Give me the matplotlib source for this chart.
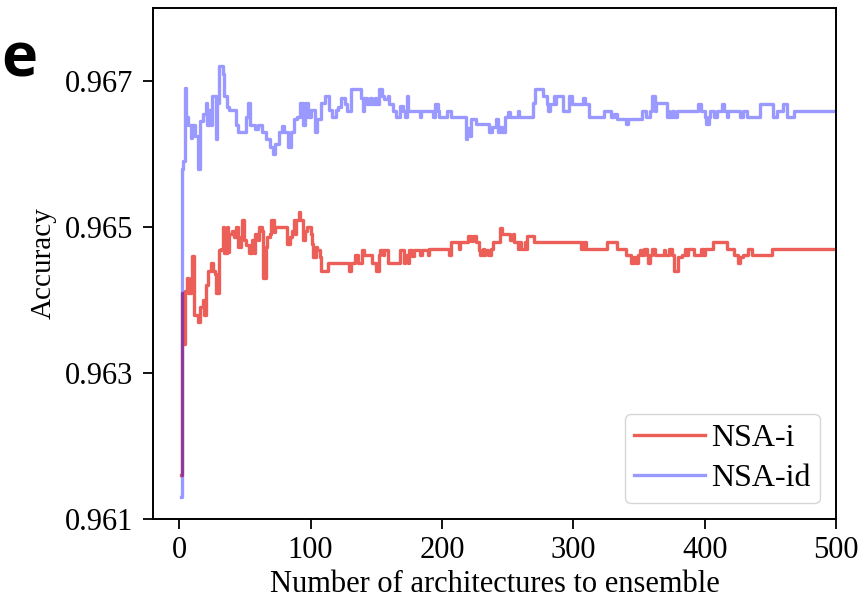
import matplotlib
matplotlib.use("Agg")
import matplotlib.pyplot as plt

# NSA-id (blue): step breakpoints
id_x = [1, 2, 3, 4, 5, 7, 9, 10, 12, 14, 16, 18, 20, 21, 23, 24, 25, 28, 29, 30,
        33, 34, 36, 38, 43, 45, 48, 51, 52, 54, 58, 60, 63, 66, 69, 71, 73, 76, 78, 80,
        83, 85, 87, 90, 92, 94, 96, 98, 100, 103, 105, 108, 111, 114, 116, 119, 121, 123, 126, 128,
        131, 138, 140, 141, 143, 145, 147, 149, 150, 152, 154, 156, 159, 160, 163, 165, 168, 170, 172, 173,
        174, 183, 184, 193, 195, 197, 198, 204, 207, 218, 219, 221, 222, 226, 236, 238, 241, 243, 244, 246,
        248, 250, 252, 258, 259, 269, 271, 277, 280, 281, 282, 285, 286, 287, 292, 297, 299, 307, 309, 312,
        323, 329, 331, 333, 340, 342, 352, 355, 358, 360, 362, 363, 371, 372, 373, 375, 377, 379, 395, 397,
        400, 401, 403, 404, 407, 409, 413, 415, 417, 418, 427, 429, 432, 442, 452, 455, 460, 463, 468, 500]
id_y = [0.9613, 0.9658, 0.9659, 0.9669, 0.9665, 0.9664, 0.96622, 0.9664, 0.96625, 0.9658,
        0.96645, 0.96655, 0.9667, 0.9664, 0.9666, 0.9664, 0.9668, 0.9662, 0.9667, 0.9672,
        0.9671, 0.9668, 0.96665, 0.9666, 0.9664, 0.9663, 0.9663, 0.9665, 0.9667, 0.9664,
        0.96634, 0.9664, 0.9663, 0.9662, 0.9661, 0.9660, 0.96614, 0.9663, 0.96638, 0.9663,
        0.9661, 0.9663, 0.96648, 0.9665, 0.9667, 0.9664, 0.9667, 0.9665, 0.9666, 0.9663,
        0.96648, 0.9667, 0.9668, 0.9666, 0.9665, 0.9666, 0.96665, 0.96677, 0.96668, 0.96659,
        0.96689, 0.96677, 0.96659, 0.96677, 0.96668, 0.96677, 0.96668, 0.96677, 0.96668, 0.96689,
        0.9668, 0.96675, 0.9668, 0.96668, 0.96659, 0.9665, 0.96666, 0.96659, 0.9665, 0.9668,
        0.96659, 0.9665, 0.96659, 0.9665, 0.96668, 0.96659, 0.9665, 0.96659, 0.9665, 0.9662,
        0.96635, 0.96625, 0.96648, 0.96641, 0.9663, 0.96637, 0.96648, 0.9663, 0.96637, 0.9663,
        0.9665, 0.96657, 0.9665, 0.96659, 0.9665, 0.9667, 0.96689, 0.9668, 0.96668, 0.96659,
        0.96668, 0.9668, 0.96668, 0.9668, 0.96659, 0.9668, 0.96668, 0.96677, 0.96668, 0.9665,
        0.96659, 0.9665, 0.96655, 0.96648, 0.96641, 0.96648, 0.96659, 0.9665, 0.96659, 0.9668,
        0.96659, 0.9667, 0.9665, 0.96659, 0.9665, 0.96659, 0.9665, 0.96659, 0.96668, 0.96659,
        0.9665, 0.96641, 0.9665, 0.96659, 0.9665, 0.96659, 0.96668, 0.96659, 0.9665, 0.96659,
        0.9665, 0.96659, 0.9665, 0.96668, 0.9665, 0.96659, 0.96668, 0.9665, 0.96659, 0.96659]

# NSA-i (red)
i_x = [1, 2, 3, 4, 6, 7, 9, 10, 11, 14, 16, 18, 19, 20, 22, 24, 26, 27, 28, 30,
       32, 33, 34, 36, 37, 38, 40, 42, 43, 45, 47, 48, 49, 51, 53, 55, 57, 58, 60, 61,
       63, 64, 66, 67, 69, 70, 72, 73, 80, 82, 84, 86, 87, 88, 89, 91, 92, 94, 96, 97,
       100, 101, 102, 104, 105, 107, 108, 113, 129, 131, 134, 136, 139, 141, 147, 150, 152, 153, 155, 156,
       159, 168, 171, 172, 174, 175, 177, 179, 183, 185, 189, 190, 205, 207, 213, 214, 220, 222, 224, 226,
       228, 229, 231, 232, 233, 235, 237, 239, 244, 246, 252, 254, 255, 258, 259, 260, 263, 264, 265, 270,
       306, 307, 308, 309, 310, 326, 333, 340, 344, 346, 348, 349, 351, 352, 354, 356, 357, 358, 360, 362,
       369, 370, 373, 375, 377, 380, 383, 385, 386, 387, 392, 397, 399, 400, 406, 417, 422, 425, 427, 429,
       433, 436, 451, 500]
i_y = [0.9616, 0.9641, 0.9634, 0.96412, 0.9643, 0.9641, 0.9643, 0.9646, 0.9638, 0.9637,
       0.9639, 0.9640, 0.9638, 0.9642, 0.9644, 0.9645, 0.9644, 0.96435, 0.9641, 0.96468,
       0.9647, 0.9650, 0.96464, 0.9650, 0.96466, 0.9649, 0.96495, 0.96486, 0.9650, 0.96473,
       0.96486, 0.9651, 0.96482, 0.96475, 0.96464, 0.96482, 0.96464, 0.96491, 0.96482, 0.9650,
       0.96495, 0.9643, 0.96473, 0.96486, 0.96491, 0.9651, 0.96493, 0.9650, 0.9650, 0.96477,
       0.96486, 0.96495, 0.9651, 0.96491, 0.9651, 0.9652, 0.9651, 0.96482, 0.96495, 0.9650,
       0.96491, 0.96477, 0.96459, 0.96473, 0.96468, 0.96459, 0.9644, 0.9645, 0.9644, 0.9645,
       0.96461, 0.9645, 0.96468, 0.96461, 0.9645, 0.9644, 0.96461, 0.96468, 0.96461, 0.96468,
       0.9645, 0.96468, 0.9645, 0.96461, 0.9645, 0.96468, 0.9646, 0.96468, 0.96461, 0.96468,
       0.96461, 0.9647, 0.96461, 0.96479, 0.9647, 0.96479, 0.96488, 0.96481, 0.96488, 0.96479,
       0.96468, 0.96461, 0.9647, 0.96461, 0.96468, 0.96461, 0.9647, 0.96479, 0.96498, 0.96491,
       0.96482, 0.96491, 0.96479, 0.9647, 0.96479, 0.9647, 0.96479, 0.9647, 0.96488, 0.96479,
       0.9647, 0.96479, 0.9647, 0.96479, 0.9647, 0.96479, 0.9647, 0.96461, 0.9645, 0.96459,
       0.9645, 0.96461, 0.96468, 0.96461, 0.9647, 0.96461, 0.9645, 0.96461, 0.9647, 0.96461,
       0.96468, 0.96461, 0.9647, 0.96461, 0.9644, 0.96459, 0.96461, 0.9647, 0.96461, 0.9647,
       0.96461, 0.9647, 0.96461, 0.9647, 0.96479, 0.9647, 0.96461, 0.9645, 0.96459, 0.96461,
       0.9647, 0.96461, 0.9647, 0.9647]

y_ticks = [0.961, 0.963, 0.965, 0.967]
x_ticks = [0, 100, 200, 300, 400, 500]

plt.rcParams["font.family"] = ["Liberation Serif", "DejaVu Serif"]

fig = plt.figure(figsize=(8.61, 6.04), dpi=100)
ax = fig.add_axes([0.1777, 0.1407, 0.971 - 0.1777, 0.9868 - 0.1407])

ax.plot(i_x, i_y, drawstyle="steps-post", color="#EC5E58", lw=2.4, label="NSA-i")
ax.plot(id_x, id_y, drawstyle="steps-post", color="blue", alpha=0.4, lw=2.4, label="NSA-id")

ax.set_xlim(-20, 500)
ax.set_ylim(0.961, 0.968)
ax.set_xticks(x_ticks)
ax.set_yticks(y_ticks)
ax.set_yticklabels([f"{v:.3f}" for v in y_ticks])
ax.tick_params(labelsize=22, length=7, width=1.3, direction="out")
ax.tick_params(axis="y", pad=7)
ax.tick_params(axis="x", pad=5)
for sp in ax.spines.values():
    sp.set_linewidth(1.4)

ax.set_xlabel("Number of architectures to ensemble", fontsize=22, labelpad=4)
ax.set_ylabel("Accuracy", fontsize=21, labelpad=6)

leg = ax.legend(loc="lower right", fontsize=23, handlelength=2.2, handletextpad=0.2,
                borderpad=0.3, labelspacing=0.35, borderaxespad=0.5)

fig.text(0.002, 0.874, "e", ha="left", va="baseline", fontsize=44,
         fontweight="bold", family="Open Sans")

fig.savefig("out.png", dpi=100)
